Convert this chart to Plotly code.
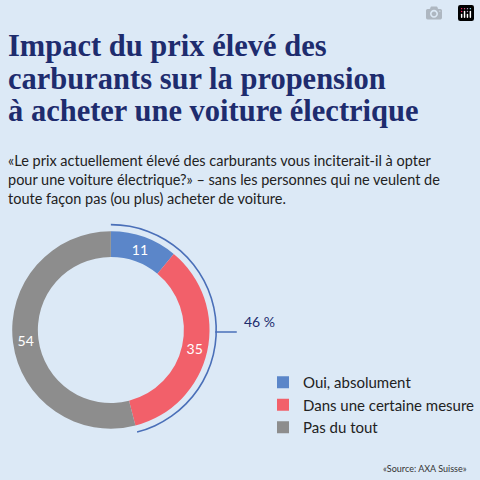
import plotly.graph_objects as go

labels = ["Oui, absolument", "Dans une certaine mesure", "Pas du tout"]
values = [11, 35, 54]
colors = ["#5b86c9", "#f2606a", "#8d8d8d"]
bracket_total = values[0] + values[1]
title_lines = ["Impact du prix élevé des", "carburants sur la propension",
               "à acheter une voiture électrique"]

W = 480
bg = "#dce9f6"
navy = "#1e2c6e"

def px(x0, x1, y0, y1):
    return dict(x=[x0 / W, x1 / W], y=[1 - y1 / W, 1 - y0 / W])

fig = go.Figure()

fig.add_trace(go.Pie(
    labels=labels, values=values, marker=dict(colors=colors, line=dict(width=0)),
    hole=0.74, sort=False, direction="clockwise", rotation=0,
    domain=px(13, 223, 225, 435),
    textinfo="value", textposition="inside", insidetextorientation="horizontal",
    textfont=dict(color="white", size=14, family="Lato"),
    hoverinfo="label+value",
))

# thin bracket arc around the first two slices
fig.add_trace(go.Pie(
    values=[bracket_total, 100 - bracket_total], labels=["a", "b"],
    marker=dict(colors=["#4a6fb8", "rgba(0,0,0,0)"], line=dict(width=0)),
    hole=0.985, sort=False, direction="clockwise", rotation=0,
    domain=px(5, 231, 217, 443), textinfo="none", showlegend=False, hoverinfo="skip",
))

fig.add_shape(type="line", xref="paper", yref="paper",
              x0=229 / W, x1=252 / W, y0=1 - 332 / W, y1=1 - 332 / W,
              line=dict(color="#4a6fb8", width=1.5))
fig.add_annotation(x=258 / W, y=1 - 332 / W, xref="paper", yref="paper",
                   text="46 %", showarrow=False, xanchor="left",
                   font=dict(size=14, color=navy, family="Lato"))

for i, line in enumerate(title_lines):
    fig.add_annotation(x=6 / W, y=1 - (46 + 32.5 * i) / W, xref="paper", yref="paper",
                       xanchor="left", yanchor="middle", showarrow=False,
                       text=f"<b>{line}</b>",
                       font=dict(family="Liberation Serif", size=30.5, color=navy))
fig.add_annotation(x=6 / W, y=1 - 150 / W, xref="paper", yref="paper",
                   xanchor="left", yanchor="top", align="left", showarrow=False,
                   text="«Le prix actuellement élevé des carburants vous inciterait-il à opter<br>pour une voiture électrique?» – sans les personnes qui ne veulent de<br>toute façon pas (ou plus) acheter de voiture.",
                   font=dict(family="Lato", size=14.5, color="#222"))
fig.add_annotation(x=405 / W, y=1 - 468 / W, xref="paper", yref="paper",
                   xanchor="left", yanchor="middle", showarrow=False,
                   text="«Source: AXA Suisse»", font=dict(family="Lato", size=9, color="#333"))

fig.update_layout(
    width=480, height=480, margin=dict(l=0, r=0, t=0, b=0),
    paper_bgcolor=bg, plot_bgcolor=bg,
    legend=dict(x=280 / W, y=1 - 366 / W, xanchor="left", yanchor="top",
                font=dict(family="Lato", size=15, color="#222"),
                itemsizing="constant", tracegroupgap=12, bgcolor="rgba(0,0,0,0)"),
)

fig.write_html("out.html",
               post_script="document.body.style.margin='0';document.body.style.overflow='hidden';")
